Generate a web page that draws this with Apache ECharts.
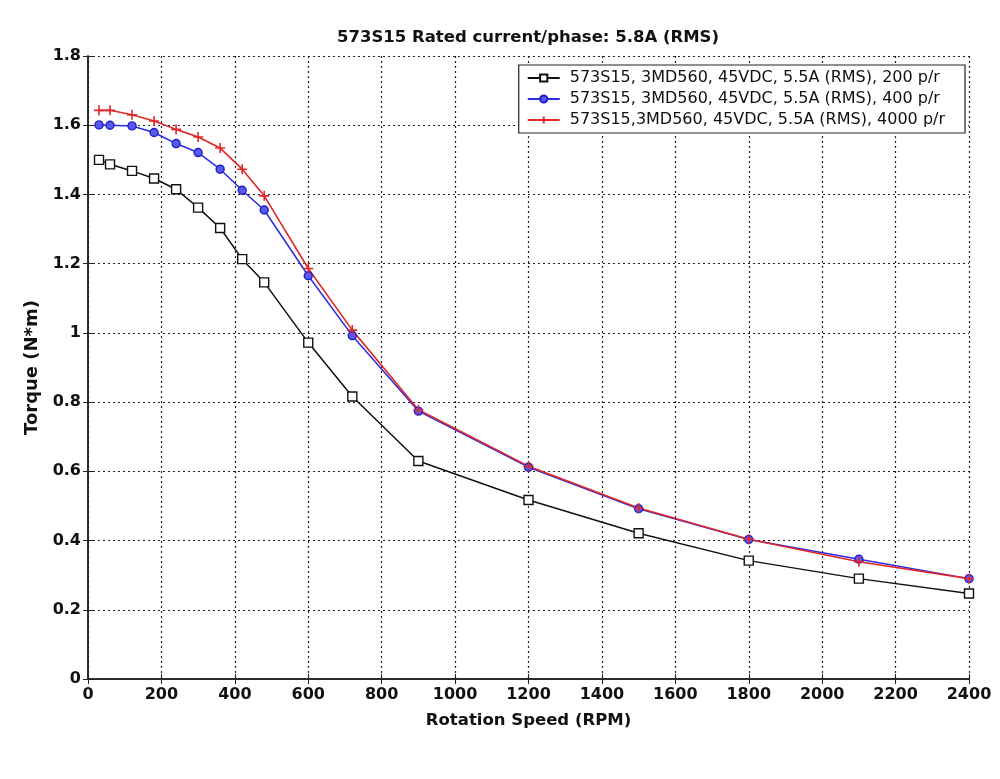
<!DOCTYPE html>
<html>
<head>
<meta charset="utf-8">
<script src="https://cdn.jsdelivr.net/npm/echarts@6/dist/echarts.min.js"></script>
<style>
  html, body { margin: 0; padding: 0; background: #fff; }
  #chart { width: 1000px; height: 779px; }
</style>
</head>
<body>
<div id="chart"></div>
<script>
// speeds (RPM) where torque was measured
var rpm = [30, 60, 120, 180, 240, 300, 360, 420, 480, 600, 720, 900, 1200, 1500, 1800, 2100, 2400];

// torque values (N*m)
var torque200 = [1.50, 1.487, 1.468, 1.446, 1.415, 1.362, 1.303, 1.213, 1.146, 0.972, 0.816, 0.630, 0.517, 0.421, 0.342, 0.290, 0.247];
var torque400 = [1.601, 1.600, 1.598, 1.579, 1.547, 1.521, 1.473, 1.412, 1.355, 1.165, 0.992, 0.774, 0.612, 0.492, 0.403, 0.346, 0.290];
var torque4000 = [1.643, 1.643, 1.630, 1.612, 1.588, 1.566, 1.534, 1.473, 1.396, 1.186, 1.008, 0.778, 0.615, 0.494, 0.404, 0.339, 0.290];

var seriesNames = [
  "573S15, 3MD560, 45VDC, 5.5A (RMS), 200 p/r",
  "573S15, 3MD560, 45VDC, 5.5A (RMS), 400 p/r",
  "573S15,3MD560, 45VDC, 5.5A (RMS), 4000 p/r"
];

function pairs(xs, ys) {
  return xs.map(function (x, i) { return [x, ys[i]]; });
}

var font = "'DejaVu Sans', 'Liberation Sans', Arial, sans-serif";
var plusPath = "path://M0,5 L10,5 M5,0 L5,10";

var myChart = echarts.init(document.getElementById("chart"));

var gridLine = { show: true, lineStyle: { color: "#222", type: [2, 3], width: 1.2 } };
var boxLine = { show: true, lineStyle: { color: "#222", width: 1.5 } };
var tick = { show: true, inside: true, length: 5, lineStyle: { color: "#222" } };

var option = {
  backgroundColor: "#fff",
  animation: false,
  title: {
    text: "573S15 Rated current/phase: 5.8A (RMS)",
    left: 523,
    textAlign: "center",
    top: 24,
    textStyle: { fontFamily: font, fontSize: 16.5, fontWeight: "bold", color: "#111" }
  },
  grid: { left: 88, right: 31, top: 56, bottom: 100, containLabel: false },
  legend: {
    orient: "vertical",
    right: 35,
    top: 65,
    padding: [5, 20, 5, 8],
    itemGap: 5,
    itemWidth: 32,
    itemHeight: 9,
    borderColor: "#222",
    borderWidth: 1.2,
    backgroundColor: "#fff",
    textStyle: { fontFamily: font, fontSize: 16, color: "#111", padding: [0, 0, 0, 5] },
    data: seriesNames
  },
  xAxis: [
    {
      type: "value",
      min: 0,
      max: 2400,
      interval: 200,
      name: "Rotation Speed (RPM)",
      nameLocation: "middle",
      nameGap: 33,
      nameTextStyle: { fontFamily: font, fontSize: 16.5, fontWeight: "bold", color: "#111" },
      axisLine: boxLine,
      axisTick: tick,
      axisLabel: {
        fontFamily: font, fontSize: 16, fontWeight: "bold", color: "#111", margin: 8,
        formatter: function (val) { return String(val); }
      },
      splitLine: gridLine
    },
    {
      type: "value",
      position: "top",
      min: 0,
      max: 2400,
      interval: 200,
      axisLine: boxLine,
      axisTick: tick,
      axisLabel: { show: false },
      splitLine: { show: false }
    }
  ],
  yAxis: [
    {
      type: "value",
      min: 0,
      max: 1.8,
      interval: 0.2,
      name: "Torque (N*m)",
      nameLocation: "middle",
      nameGap: 35,
      nameTextStyle: { fontFamily: font, fontSize: 18, fontWeight: "bold", color: "#111" },
      axisLine: boxLine,
      axisTick: tick,
      axisLabel: { fontFamily: font, fontSize: 16, fontWeight: "bold", color: "#111", margin: 7 },
      splitLine: gridLine
    },
    {
      type: "value",
      position: "right",
      min: 0,
      max: 1.8,
      interval: 0.2,
      axisLine: boxLine,
      axisTick: tick,
      axisLabel: { show: false },
      splitLine: { show: false }
    }
  ],
  series: [
    {
      name: seriesNames[0],
      type: "line",
      data: pairs(rpm, torque200),
      symbol: "rect",
      symbolSize: 9,
      showAllSymbol: true,
      lineStyle: { color: "#111", width: 1.5 },
      itemStyle: { color: "#fff", borderColor: "#111", borderWidth: 1.4 }
    },
    {
      name: seriesNames[1],
      type: "line",
      data: pairs(rpm, torque400),
      symbol: "circle",
      symbolSize: 8,
      showAllSymbol: true,
      lineStyle: { color: "#2a2ae0", width: 1.5 },
      itemStyle: { color: "#5a5af0", borderColor: "#1e1ec8", borderWidth: 1.4 }
    },
    {
      name: seriesNames[2],
      type: "line",
      data: pairs(rpm, torque4000),
      symbol: plusPath,
      symbolSize: 10,
      showAllSymbol: true,
      lineStyle: { color: "#e02828", width: 1.6 },
      itemStyle: { color: "none", borderColor: "#e02828", borderWidth: 1.6 }
    }
  ]
};

myChart.setOption(option);
</script>
</body>
</html>
